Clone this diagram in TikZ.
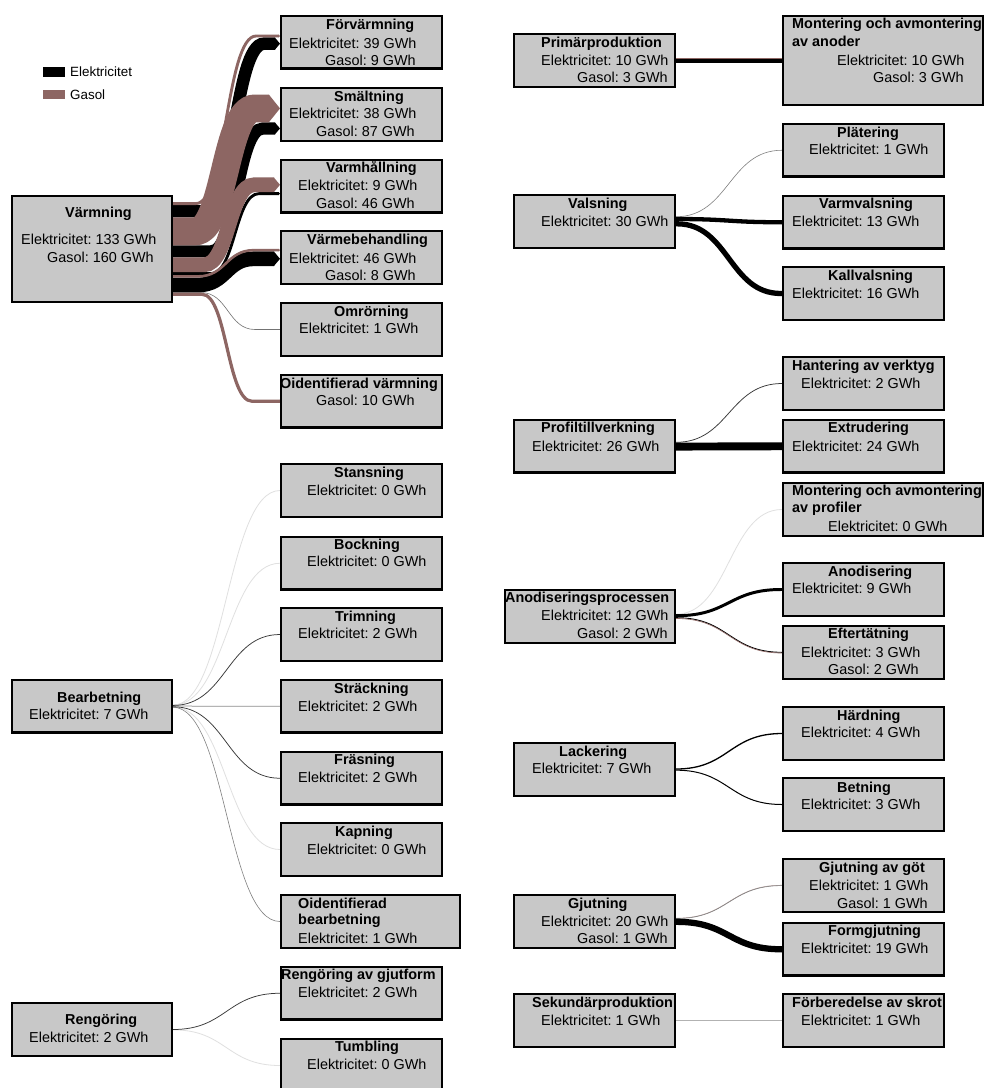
\documentclass[tikz,border=0pt]{standalone}
\usepackage{fontspec}
\setmainfont{Liberation Sans}
\usetikzlibrary{calc}
\frenchspacing
\definecolor{boxgray}{RGB}{200,200,200}
\definecolor{gasbrown}{RGB}{141,102,99}
\pgfdeclarelayer{back}
\pgfdeclarelayer{flows}
\pgfsetlayers{back,flows,main}

\tikzset{
  procbox/.style={draw=black, line width=2.2pt, fill=boxgray, rectangle, inner sep=0pt, anchor=north west},
  txt/.style={inner sep=0pt, anchor=base west, font=\fontsize{14.4}{17}\selectfont},
  ttl/.style={txt, font=\fontsize{14.4}{17}\selectfont\bfseries},
  legtxt/.style={inner sep=0pt, anchor=base west, font=\fontsize{13.4}{16}\selectfont},
  legkey/.style={rectangle, inner sep=0pt, anchor=north west, minimum width=22pt, minimum height=9.5pt},
  wzero/.style={draw=black!12, line width=0.8pt},
  wone/.style={draw=black!50, line width=0.6pt},
  wtwo/.style={draw=black!78, line width=0.75pt},
}

% process box: name, left, top, outer width, outer height
\newcommand{\procnode}[5]{\node[procbox, minimum width=#4pt-2.2pt, minimum height=#5pt-2.2pt] (#1) at (#2,#3) {};}
% text line: style, name, left, vertical centre, text
\newcommand{\tline}[5]{\node[#1] (#2) at (#3,#4+5) {#5};}
% energy band of constant width, straight - S-bend - straight:
% #1 colour, #2 source, #3 centre offset at the source, #4 target, #5 centre offset at the target,
% #6 width, #7 depth of the arrow point, #8 x of the bend (from the source edge), #9 half length of the bend
\newcommand{\flowband}[9]{%
  \draw[draw=#1, line width=#6pt] let \p1=($(#2.east)+(0,#3)$), \p2=($(#4.west)+(-#7,#5)$) in
    (\p1) -- ({\x1+#8pt-#9pt},\y1)
    .. controls ({\x1+#8pt},\y1) and ({\x1+#8pt},\y2) .. ({\x1+#8pt+#9pt},\y2) -- (\p2);
  \fill[#1] let \p2=($(#4.west)+(-#7,#5)$) in
    (\x2-0.2pt,\y2+#6pt/2) -- (\x2+#7pt,\y2) -- (\x2-0.2pt,\y2-#6pt/2) -- cycle;}
% thin flow drawn as a line: style, source, offset, target, offset
\newcommand{\flowwire}[5]{%
  \draw[#1] let \p1=($(#2.east)+(0,#3)$), \p2=($(#4.west)+(0,#5)$) in
    (\p1) .. controls ({(\x1+\x2)/2},\y1) and ({(\x1+\x2)/2},\y2) .. (\p2);}

\begin{document}
\begin{tikzpicture}[x=1pt,y=-1pt]
\useasboundingbox (0,0) rectangle (985,1088);
\begin{pgfonlayer}{back}
  \fill[white] (0,0) rectangle (985,1088);
\end{pgfonlayer}

% ---------------- legend
\node[legkey, fill=black] (legel) at (43,67) {};
\tline{legtxt}{legelt}{70}{71}{Elektricitet}
\node[legkey, fill=gasbrown] (leggas) at (43,89.5) {};
\tline{legtxt}{leggast}{70}{94}{Gasol}

% ---------------- heating
\procnode{varm}{11}{195}{162}{108}
\tline{ttl}{varm-t}{65}{212}{Värmning}
\tline{txt}{varm-e}{21}{239}{Elektricitet: 133 GWh}
\tline{txt}{varm-g}{47}{257}{Gasol: 160 GWh}

\procnode{forv}{280}{15}{163}{54.5}
\tline{ttl}{forv-t}{326}{24}{Förvärmning}
\tline{txt}{forv-e}{289}{43}{Elektricitet: 39 GWh}
\tline{txt}{forv-g}{325}{60}{Gasol: 9 GWh}

\procnode{smalt}{280}{87}{163}{55}
\tline{ttl}{smalt-t}{334}{96}{Smältning}
\tline{txt}{smalt-e}{289}{113}{Elektricitet: 38 GWh}
\tline{txt}{smalt-g}{316}{131}{Gasol: 87 GWh}

\procnode{varmh}{280}{159}{163}{54.5}
\tline{ttl}{varmh-t}{326}{167}{Varmhållning}
\tline{txt}{varmh-e}{298}{185}{Elektricitet: 9 GWh}
\tline{txt}{varmh-g}{316}{203}{Gasol: 46 GWh}

\procnode{varmeb}{280}{230}{163}{55}
\tline{ttl}{varmeb-t}{307}{239}{Värmebehandling}
\tline{txt}{varmeb-e}{289}{258}{Elektricitet: 46 GWh}
\tline{txt}{varmeb-g}{325}{275}{Gasol: 8 GWh}

\procnode{omror}{280}{302}{163}{55}
\tline{ttl}{omror-t}{334}{311}{Omrörning}
\tline{txt}{omror-e}{299}{328}{Elektricitet: 1 GWh}

\procnode{oidv}{280}{374}{163}{54.5}
\tline{ttl}{oidv-t}{280}{383}{Oidentifierad värmning}
\tline{txt}{oidv-g}{316}{400}{Gasol: 10 GWh}

% ---------------- machining
\procnode{bearb}{11}{679}{162}{54.5}
\tline{ttl}{bearb-t}{57}{697}{Bearbetning}
\tline{txt}{bearb-e}{29}{714}{Elektricitet: 7 GWh}

\procnode{stans}{280}{463}{163}{55}
\tline{ttl}{stans-t}{334}{472}{Stansning}
\tline{txt}{stans-e}{307}{490}{Elektricitet: 0 GWh}

\procnode{bock}{280}{536}{163}{54.5}
\tline{ttl}{bock-t}{334}{544}{Bockning}
\tline{txt}{bock-e}{307}{561}{Elektricitet: 0 GWh}

\procnode{trim}{280}{607}{163}{55}
\tline{ttl}{trim-t}{335}{616}{Trimning}
\tline{txt}{trim-e}{298}{633}{Elektricitet: 2 GWh}

\procnode{strack}{280}{679}{163}{54.5}
\tline{ttl}{strack-t}{334}{688}{Sträckning}
\tline{txt}{strack-e}{298}{706}{Elektricitet: 2 GWh}

\procnode{frasn}{280}{751}{163}{54.5}
\tline{ttl}{frasn-t}{334}{759}{Fräsning}
\tline{txt}{frasn-e}{298}{777}{Elektricitet: 2 GWh}

\procnode{kapn}{280}{822}{163}{55}
\tline{ttl}{kapn-t}{335}{831}{Kapning}
\tline{txt}{kapn-e}{307}{849}{Elektricitet: 0 GWh}

\procnode{oidb}{280}{894}{181}{55}
\tline{ttl}{oidb-t}{298}{903}{Oidentifierad}
\tline{ttl}{oidb-u}{298}{919}{bearbetning}
\tline{txt}{oidb-e}{298}{938}{Elektricitet: 1 GWh}

% ---------------- cleaning
\procnode{reng}{11}{1002}{162}{55}
\tline{ttl}{reng-t}{65}{1019}{Rengöring}
\tline{txt}{reng-e}{29}{1037}{Elektricitet: 2 GWh}

\procnode{rgjut}{280}{966}{163}{54.5}
\tline{ttl}{rgjut-t}{281}{974}{Rengöring av gjutform}
\tline{txt}{rgjut-e}{298}{992}{Elektricitet: 2 GWh}

\procnode{tumbl}{280}{1038}{163}{55}
\tline{ttl}{tumbl-t}{335}{1046}{Tumbling}
\tline{txt}{tumbl-e}{307}{1064}{Elektricitet: 0 GWh}

% ---------------- primary production
\procnode{primp}{513}{33}{163}{55}
\tline{ttl}{primp-t}{541}{42}{Primärproduktion}
\tline{txt}{primp-e}{541}{60}{Elektricitet: 10 GWh}
\tline{txt}{primp-g}{577}{77}{Gasol: 3 GWh}

\procnode{anoder}{782}{15}{202}{91}
\tline{ttl}{anoder-t}{792}{23}{Montering och avmontering}
\tline{ttl}{anoder-u}{792}{41}{av anoder}
\tline{txt}{anoder-e}{837}{60}{Elektricitet: 10 GWh}
\tline{txt}{anoder-g}{873}{77}{Gasol: 3 GWh}

% ---------------- rolling
\procnode{vals}{513}{194}{163}{55}
\tline{ttl}{vals-t}{568}{203}{Valsning}
\tline{txt}{vals-e}{541}{221}{Elektricitet: 30 GWh}

\procnode{plat}{782}{123}{163}{54.5}
\tline{ttl}{plat-t}{837}{132}{Plätering}
\tline{txt}{plat-e}{809}{149}{Elektricitet: 1 GWh}

\procnode{varmv}{782}{195}{163}{54.5}
\tline{ttl}{varmv-t}{819}{203}{Varmvalsning}
\tline{txt}{varmv-e}{792}{221}{Elektricitet: 13 GWh}

\procnode{kallv}{782}{266}{163}{55}
\tline{ttl}{kallv-t}{828}{275}{Kallvalsning}
\tline{txt}{kallv-e}{792}{293}{Elektricitet: 16 GWh}

% ---------------- profiles
\procnode{profil}{513}{419}{163}{54.5}
\tline{ttl}{profil-t}{541}{427}{Profiltillverkning}
\tline{txt}{profil-e}{532}{446}{Elektricitet: 26 GWh}

\procnode{hant}{782}{356}{163}{55}
\tline{ttl}{hant-t}{792}{365}{Hantering av verktyg}
\tline{txt}{hant-e}{801}{383}{Elektricitet: 2 GWh}

\procnode{extr}{782}{419}{163}{54.5}
\tline{ttl}{extr-t}{828}{427}{Extrudering}
\tline{txt}{extr-e}{792}{446}{Elektricitet: 24 GWh}

% ---------------- anodising
\procnode{anodp}{504}{589}{172}{55}
\tline{ttl}{anodp-t}{505}{597}{Anodiseringsprocessen}
\tline{txt}{anodp-e}{541}{615}{Elektricitet: 12 GWh}
\tline{txt}{anodp-g}{577}{633}{Gasol: 2 GWh}

\procnode{mprof}{782}{482}{202}{55}
\tline{ttl}{mprof-t}{792}{490}{Montering och avmontering}
\tline{ttl}{mprof-u}{792}{507}{av profiler}
\tline{txt}{mprof-e}{828}{526}{Elektricitet: 0 GWh}

\procnode{anod}{782}{562}{163}{55}
\tline{ttl}{anod-t}{828}{571}{Anodisering}
\tline{txt}{anod-e}{792}{588}{Elektricitet: 9 GWh}

\procnode{eftert}{782}{625}{163}{55}
\tline{ttl}{eftert-t}{828}{633}{Eftertätning}
\tline{txt}{eftert-e}{801}{652}{Elektricitet: 3 GWh}
\tline{txt}{eftert-g}{828}{669}{Gasol: 2 GWh}

% ---------------- lacquering
\procnode{lack}{513}{742}{163}{55}
\tline{ttl}{lack-t}{559}{751}{Lackering}
\tline{txt}{lack-e}{532}{768}{Elektricitet: 7 GWh}

\procnode{hard}{782}{706}{163}{55}
\tline{ttl}{hard-t}{837}{715}{Härdning}
\tline{txt}{hard-e}{801}{732}{Elektricitet: 4 GWh}

\procnode{betn}{782}{777}{163}{55}
\tline{ttl}{betn-t}{837}{787}{Betning}
\tline{txt}{betn-e}{801}{804}{Elektricitet: 3 GWh}

% ---------------- casting
\procnode{gjut}{513}{894}{163}{55}
\tline{ttl}{gjut-t}{568}{903}{Gjutning}
\tline{txt}{gjut-e}{541}{921}{Elektricitet: 20 GWh}
\tline{txt}{gjut-g}{577}{938}{Gasol: 1 GWh}

\procnode{gjgot}{782}{858}{163}{55}
\tline{ttl}{gjgot-t}{819}{867}{Gjutning av göt}
\tline{txt}{gjgot-e}{809}{885}{Elektricitet: 1 GWh}
\tline{txt}{gjgot-g}{837}{903}{Gasol: 1 GWh}

\procnode{formg}{782}{922}{163}{54.5}
\tline{ttl}{formg-t}{828}{930}{Formgjutning}
\tline{txt}{formg-e}{801}{948}{Elektricitet: 19 GWh}

% ---------------- secondary production
\procnode{sekund}{513}{993}{163}{55}
\tline{ttl}{sekund-t}{532}{1002}{Sekundärproduktion}
\tline{txt}{sekund-e}{541}{1020}{Elektricitet: 1 GWh}

\procnode{forb}{782}{993}{163}{55}
\tline{ttl}{forb-t}{792}{1002}{Förberedelse av skrot}
\tline{txt}{forb-e}{801}{1020}{Elektricitet: 1 GWh}

% ================= flows
\begin{pgfonlayer}{flows}
  % heating: electricity first, LPG on top
  \flowband{black}{varm}{-37.76}{forv}{1.44}{12.48}{5}{61}{30}
  \flowband{black}{varm}{2.40}{smalt}{13.92}{12.16}{5}{64}{26}
  \flowband{black}{varm}{24.64}{varmh}{7.36}{2.88}{1.2}{62}{24}
  \flowband{black}{varm}{36.0}{varmeb}{1.28}{14.72}{6}{53}{28}
  \flowband{black!55}{varm}{43.52}{omror}{0}{0.6}{0}{55}{27}
  \flowband{gasbrown}{varm}{-45.44}{forv}{-6.24}{2.88}{1.2}{53}{30}
  \flowband{gasbrown}{varm}{-17.6}{smalt}{-6.08}{27.84}{11}{52}{30}
  \flowband{gasbrown}{varm}{15.84}{varmh}{-1.44}{14.72}{6}{56}{25}
  \flowband{gasbrown}{varm}{27.36}{varmeb}{-7.36}{2.56}{1}{53}{28}
  \flowband{gasbrown}{varm}{45.28}{oidv}{0}{3.2}{0}{54}{25}

  % machining
  \flowwire{wzero}{bearb}{-1.155}{stans}{0}
  \flowwire{wzero}{bearb}{-1.155}{bock}{0}
  \flowwire{wzero}{bearb}{0.825}{kapn}{0}
  \flowwire{wone}{bearb}{0.99}{oidb}{0}
  \flowwire{draw=black!45, line width=0.75pt}{bearb}{-0.165}{strack}{0}
  \flowwire{wtwo}{bearb}{-0.825}{trim}{0}
  \flowwire{wtwo}{bearb}{0.495}{frasn}{0}

  % cleaning
  \flowwire{wzero}{reng}{0.33}{tumbl}{0}
  \flowwire{wtwo}{reng}{0}{rgjut}{0}

  % primary production
  \flowband{black}{primp}{0.5}{anoder}{0.5}{3.3}{0}{53}{52}
  \flowband{gasbrown}{primp}{-1.65}{anoder}{-1.65}{1.0}{0}{53}{52}

  % rolling
  \flowwire{wone}{vals}{-4.78}{plat}{0}
  \flowband{black}{vals}{-2.475}{varmv}{0}{4.29}{0}{53}{52}
  \flowband{black}{vals}{2.31}{kallv}{0}{5.28}{0}{53}{52}

  % profiles
  \flowwire{wtwo}{profil}{-3.96}{hant}{0}
  \flowband{black}{profil}{0.33}{extr}{0}{7.92}{0}{53}{52}

  % anodising
  \flowwire{wzero}{anodp}{-2.31}{mprof}{0}
  \flowband{black}{anodp}{-0.825}{anod}{0}{2.97}{0}{53}{52}
  \flowwire{draw=black, line width=0.9pt}{anodp}{1.15}{eftert}{-0.2}
  \flowwire{draw=gasbrown, line width=0.66pt}{anodp}{1.98}{eftert}{0.5}

  % lacquering
  \flowwire{draw=black, line width=1.3pt}{lack}{-0.5}{hard}{0}
  \flowwire{draw=black, line width=1pt}{lack}{0.66}{betn}{0}

  % casting
  \flowwire{draw=gasbrown!70, line width=0.5pt}{gjut}{-3.3}{gjgot}{-0.3}
  \flowwire{wone}{gjut}{-2.97}{gjgot}{0.1}
  \flowband{black}{gjut}{0.33}{formg}{0}{6.27}{0}{53}{52}

  % secondary production
  \flowwire{draw=black!30, line width=0.6pt}{sekund}{0}{forb}{0}
\end{pgfonlayer}
\end{tikzpicture}
\end{document}
